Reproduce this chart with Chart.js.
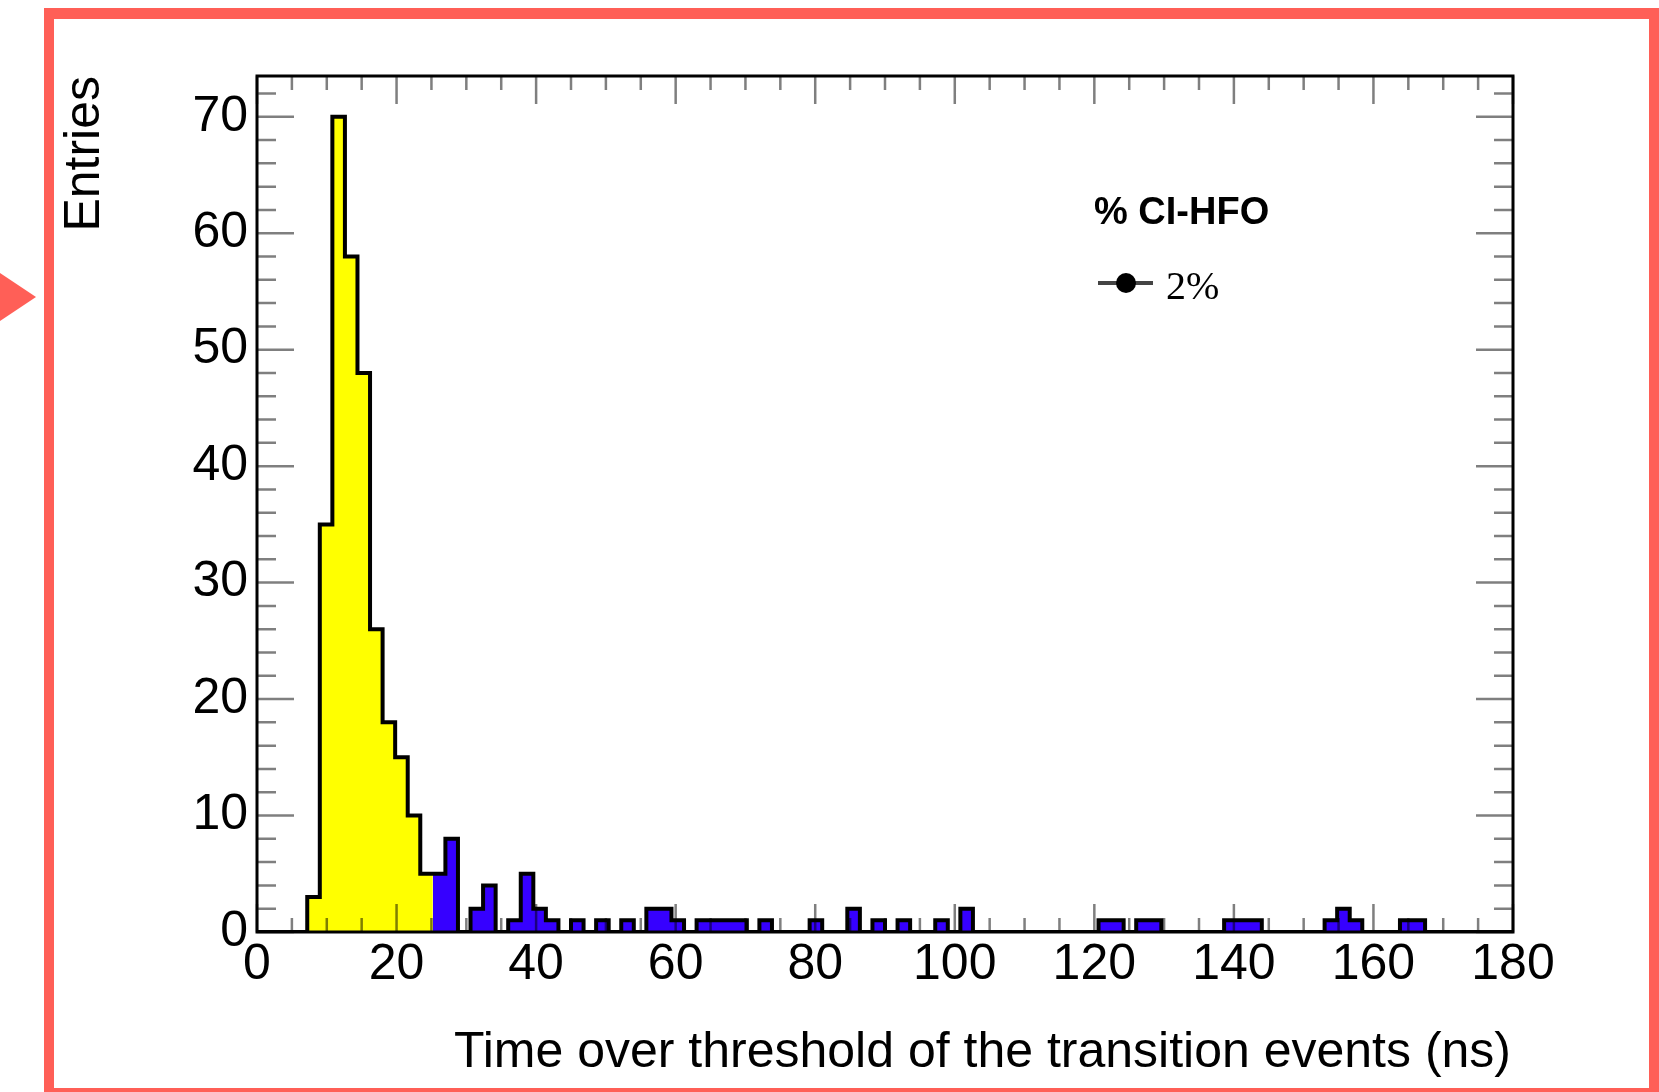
<!DOCTYPE html>
<html>
<head>
<meta charset="utf-8">
<script src="https://cdn.jsdelivr.net/npm/chart.js@4.4.1/dist/chart.umd.min.js"></script>
<style>
  html, body { margin: 0; padding: 0; background: #fff; }
  body { width: 1659px; height: 1092px; position: relative; overflow: hidden; }
  #frame {
    position: absolute; left: 44px; top: 8px; width: 1615px; height: 1090px;
    box-sizing: border-box; border: 10px solid #ff5f57; border-top-width: 11px;
  }
  #pointer {
    position: absolute; left: 0; top: 273px; width: 0; height: 0;
    border-top: 24px solid transparent; border-bottom: 24px solid transparent;
    border-left: 36px solid #ff5f57;
  }
  #tot { position: absolute; left: 0; top: 0; }
</style>
</head>
<body>
<div id="frame"></div>
<div id="pointer"></div>
<canvas id="tot" width="1659" height="1092"></canvas>
<script>
// time over threshold histogram, 100 bins of 1.8 ns from 0 to 180 ns
const binWidth = 1.8;
const counts = [
  0, 0, 0, 0, 3, 35, 70, 58, 48, 26,
  18, 15, 10, 5, 5, 8, 0, 2, 4, 0,
  1, 5, 2, 1, 0, 1, 0, 1, 0, 1,
  0, 2, 2, 1, 0, 1, 1, 1, 1, 0,
  1, 0, 0, 0, 1, 0, 0, 2, 0, 1,
  0, 1, 0, 0, 1, 0, 2, 0, 0, 0,
  0, 0, 0, 0, 0, 0, 0, 1, 1, 0,
  1, 1, 0, 0, 0, 0, 0, 1, 1, 1,
  0, 0, 0, 0, 0, 1, 2, 1, 0, 0,
  0, 1, 1, 0, 0, 0, 0, 0, 0, 0
];
// bins below this index are the yellow (CI-HFO) part
const cutBin = 14;

const xTickValues = [0, 20, 40, 60, 80, 100, 120, 140, 160, 180];
const yTickValues = [0, 10, 20, 30, 40, 50, 60, 70];
const xTitle = "Time over threshold of the transition events (ns)";
const yTitle = "Entries";
const legendHeader = "% CI-HFO";
const legendEntry = "2%";

const FONT = "'Liberation Sans', Arial, Helvetica, sans-serif";

// left-edge points for a stepped line, closed at the upper edge of the last bin
function stepPoints(from, to) {
  const pts = [];
  for (let i = from; i < to; i++) pts.push({ x: i * binWidth, y: counts[i] });
  pts.push({ x: to * binWidth, y: counts[to - 1] });
  return pts;
}

const rootPad = {
  id: "rootPad",
  afterDatasetsDraw(chart) {
    const { ctx, chartArea: a, scales: { x, y } } = chart;
    ctx.save();
    // tick marks inside the frame, on all four sides
    ctx.strokeStyle = "rgba(0,0,0,0.5)";
    ctx.lineWidth = 2.5;
    ctx.beginPath();
    for (let v = 0; v <= 180; v += 5) {
      const px = x.getPixelForValue(v);
      const len = xTickValues.includes(v) ? 28 : 14;
      ctx.moveTo(px, a.bottom); ctx.lineTo(px, a.bottom - len);
      ctx.moveTo(px, a.top); ctx.lineTo(px, a.top + len);
    }
    for (let v = 0; v <= 72; v += 2) {
      const py = y.getPixelForValue(v);
      const len = yTickValues.includes(v) ? 37 : 19;
      ctx.moveTo(a.left, py); ctx.lineTo(a.left + len, py);
      ctx.moveTo(a.right, py); ctx.lineTo(a.right - len, py);
    }
    ctx.stroke();

    ctx.strokeStyle = "#000";
    ctx.lineWidth = 3;
    ctx.strokeRect(a.left, a.top, a.right - a.left, a.bottom - a.top);
    ctx.restore();
  },
  afterDraw(chart) {
    const { ctx, chartArea: a } = chart;
    ctx.save();
    ctx.fillStyle = "#000";

    // axis titles, right-aligned to the axis ends
    ctx.font = "50px " + FONT;
    ctx.textAlign = "right";
    ctx.textBaseline = "alphabetic";
    ctx.fillText(xTitle, a.right - 2, 1067);

    ctx.translate(99, a.top);
    ctx.rotate(-Math.PI / 2);
    ctx.fillText(yTitle, 0, 0);
    ctx.setTransform(1, 0, 0, 1, 0, 0);

    // legend
    ctx.textAlign = "left";
    ctx.font = "bold 38px " + FONT;
    ctx.fillText(legendHeader, 1094, 224);

    ctx.strokeStyle = "#444";
    ctx.lineWidth = 4;
    ctx.beginPath();
    ctx.moveTo(1098, 283); ctx.lineTo(1153, 283);
    ctx.stroke();
    ctx.beginPath();
    ctx.arc(1126, 283, 10, 0, Math.PI * 2);
    ctx.fill();

    ctx.font = "40px 'Liberation Serif', 'Times New Roman', serif";
    ctx.fillText(legendEntry, 1166, 299);
    ctx.restore();
  }
};

const data = {
  datasets: [
    {
      label: "outline",
      data: stepPoints(0, counts.length),
      stepped: true,
      fill: false,
      borderColor: "#000",
      borderWidth: 4,
      pointRadius: 0,
    },
    {
      label: "transition",
      data: stepPoints(0, cutBin),
      stepped: true,
      fill: "origin",
      backgroundColor: "#ffff00",
      borderColor: "rgba(0,0,0,0)",
      borderWidth: 0,
      pointRadius: 0,
    },
    {
      label: "tail",
      data: stepPoints(cutBin, counts.length),
      stepped: true,
      fill: "origin",
      backgroundColor: "#3600ff",
      borderColor: "rgba(0,0,0,0)",
      borderWidth: 0,
      pointRadius: 0,
    },
  ],
};

const options = {
  responsive: false,
  animation: false,
  devicePixelRatio: 1,
  layout: { padding: { left: 0, top: 76, right: 146, bottom: 0 } },
  plugins: {
    legend: { display: false },
    tooltip: { enabled: false },
  },
  scales: {
    x: {
      type: "linear",
      min: 0,
      max: 180,
      grid: { display: false, drawTicks: false },
      border: { display: false },
      afterBuildTicks: (scale) => { scale.ticks = xTickValues.map((v) => ({ value: v })); },
      afterFit: (scale) => { scale.height = 160; },
      ticks: {
        padding: 3,
        maxRotation: 0,
        autoSkip: false,
        color: "#000",
        font: { family: FONT, size: 50 },
        callback: (v) => String(v),
      },
    },
    y: {
      type: "linear",
      min: 0,
      max: 73.5,
      grid: { display: false, drawTicks: false },
      border: { display: false },
      afterBuildTicks: (scale) => { scale.ticks = yTickValues.map((v) => ({ value: v })); },
      afterFit: (scale) => { scale.width = 257; },
      ticks: {
        padding: 9,
        color: "#000",
        font: { family: FONT, size: 50 },
        callback: (v) => String(v),
      },
    },
  },
};

const totChart = new Chart(document.getElementById("tot"), {
  type: "line",
  data: data,
  options: options,
  plugins: [rootPad],
});
</script>
</body>
</html>
